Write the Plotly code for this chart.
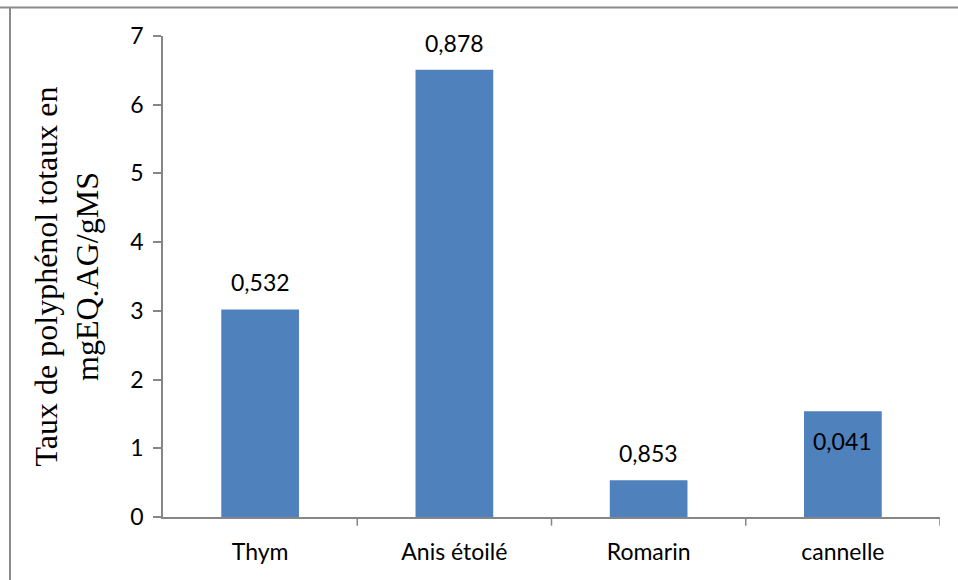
import plotly.graph_objects as go

# Total polyphenol content per plant extract
plantes = ["Thym", "Anis étoilé", "Romarin", "cannelle"]
taux = [3.02, 6.51, 0.534, 1.54]
etiquettes = ["0,532", "0,878", "0,853", "0,041"]
# label offset from bar top (pixels): above the bar, except cannelle drawn inside
decalage = [27, 27, 27, -30]

y_ticks = [0, 1, 2, 3, 4, 5, 6, 7]

fig = go.Figure()
fig.add_trace(go.Bar(
    x=plantes,
    y=taux,
    width=0.4,
    marker=dict(color="#4F81BD", line=dict(width=0)),
    showlegend=False,
))

for p, v, t, d in zip(plantes, taux, etiquettes, decalage):
    fig.add_annotation(
        x=p, y=v, text=t, showarrow=False,
        yshift=d, xanchor="center", yanchor="middle",
        font=dict(family="Lato, Open Sans, sans-serif", size=23, color="#000000"),
    )

axis_font = dict(family="Lato, Open Sans, sans-serif", size=23, color="#000000")

fig.update_layout(
    width=958, height=580,
    margin=dict(l=163, r=18, t=36, b=63),
    paper_bgcolor="white", plot_bgcolor="white",
    bargap=0.6,
    xaxis=dict(
        showline=True, linecolor="#868686", linewidth=1.5,
        showgrid=False, ticks="", tickfont=axis_font,
        ticklabelstandoff=14,
        range=[-0.5, 3.5], fixedrange=True,
    ),
    yaxis=dict(
        range=[0, 7], tickvals=y_ticks,
        showline=True, linecolor="#868686", linewidth=1.5,
        ticks="outside", ticklen=8, tickcolor="#868686", tickwidth=1.5,
        ticklabelstandoff=5,
        showgrid=False, zeroline=False, tickfont=axis_font,
        title=dict(
            text="Taux de polyphénol totaux en<br>mgEQ.AG/gMS",
            font=dict(family="Liberation Serif, Times New Roman, serif", size=32, color="#000000"),
            standoff=22,
        ),
    ),
)

# category separator ticks on the x axis
for i in range(len(plantes)):
    fig.add_shape(
        type="line", xref="x", yref="paper",
        x0=i + 0.5, x1=i + 0.5, y0=0, y1=-0.018,
        line=dict(color="#868686", width=1.5),
    )

# outer frame (top and left edges)
fig.add_shape(type="line", xref="paper", yref="paper",
              x0=-163 / 777, x1=1.1, y0=1 + 28.5 / 481, y1=1 + 28.5 / 481,
              line=dict(color="#8C8C8C", width=2))
fig.add_shape(type="line", xref="paper", yref="paper",
              x0=-153 / 777, x1=-153 / 777, y0=1 + 28.5 / 481, y1=-0.2,
              line=dict(color="#8C8C8C", width=2))

fig.write_html("out.html")
